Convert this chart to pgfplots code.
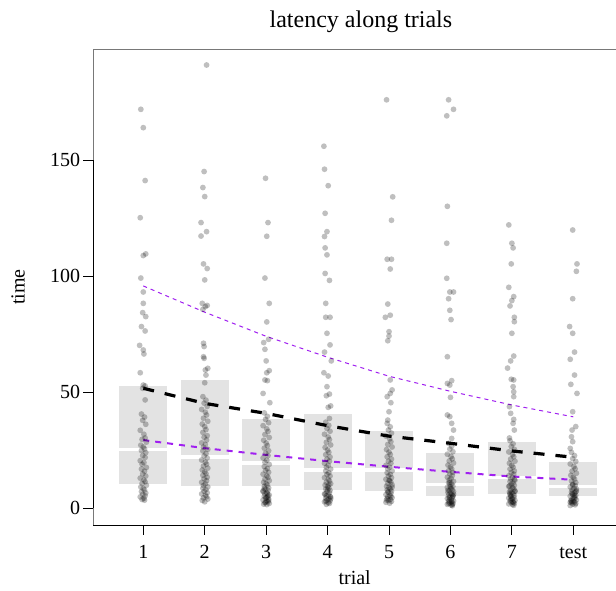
\documentclass[border=0pt]{standalone}
\usepackage{pgfplots}
\pgfplotsset{compat=1.18}
\usepgfplotslibrary{statistics}
\usepackage{fontspec}
\setmainfont{Liberation Serif}
\definecolor{rpurple}{RGB}{160,32,240}
\definecolor{boxgray}{RGB}{227,227,227}
\definecolor{framegray}{RGB}{120,120,120}

\begin{document}
\begin{tikzpicture}[font=\fontsize{20}{24}\selectfont]
\useasboundingbox (-93.3pt,-66pt) rectangle (522.7pt,525pt);
\begin{axis}[
  at={(0pt,0pt)}, anchor=south west,
  scale only axis, width=522.7pt, height=476pt,
  xmin=0.186, xmax=8.695, ymin=-7.3, ymax=197.8,
  axis line style={draw=none},
  tick pos=left, tick align=outside, major tick length=10pt,
  tick style={black, line width=0.8pt},
  xtick={1,2,3,4,5,6,7,8}, xticklabels={1,2,3,4,5,6,7,test},
  ytick={0,50,100,150}, yticklabels={0,50,100,150},
  xticklabel style={inner sep=0pt, text height=13.5pt, yshift=-10pt},
  yticklabel style={inner sep=0pt, xshift=-3pt},
  title={latency along trials},
  every axis title/.style={font=\fontsize{24}{28}\selectfont, at={(axis description cs:0.512,1.0462)}, anchor=base, inner sep=0pt},
  xlabel={trial}, ylabel={time},
  every axis x label/.style={at={(axis description cs:0.5,-0.11)}, anchor=center},
  every axis y label/.style={at={(axis description cs:-0.144,0.5)}, anchor=center, rotate=90},
  boxplot/draw direction=y,
  boxplot/box extend=0.78,
  clip=false,
]
\pgfplotsset{
  inf/.style={boxplot/every box/.style={draw=none, fill=boxgray},
    boxplot/every median/.style={draw=white, line width=3.5pt},
    boxplot/every whisker/.style={draw=none}},
  pts/.style={only marks, mark=*, mark size=2.9pt, draw opacity=0, mark options={draw opacity=0, line width=0pt, fill=black, fill opacity=0.25}}}
% boxes: interval with white average line
\addplot[inf, draw=none, boxplot prepared={draw position=1, lower whisker=10.5, lower quartile=10.5, median=25.3, upper quartile=52.6, upper whisker=52.6}] coordinates {};
\addplot[inf, draw=none, boxplot prepared={draw position=2, lower whisker=9.4, lower quartile=9.4, median=22.1, upper quartile=55.0, upper whisker=55.0}] coordinates {};
\addplot[inf, draw=none, boxplot prepared={draw position=3, lower whisker=9.4, lower quartile=9.4, median=19.5, upper quartile=38.2, upper whisker=38.2}] coordinates {};
\addplot[inf, draw=none, boxplot prepared={draw position=4, lower whisker=7.8, lower quartile=7.8, median=16.5, upper quartile=40.5, upper whisker=40.5}] coordinates {};
\addplot[inf, draw=none, boxplot prepared={draw position=5, lower whisker=7.5, lower quartile=7.5, median=16.4, upper quartile=33.3, upper whisker=33.3}] coordinates {};
\addplot[inf, draw=none, boxplot prepared={draw position=6, lower whisker=5.3, lower quartile=5.3, median=10.2, upper quartile=23.8, upper whisker=23.8}] coordinates {};
\addplot[inf, draw=none, boxplot prepared={draw position=7, lower whisker=5.9, lower quartile=5.9, median=13.1, upper quartile=28.3, upper whisker=28.3}] coordinates {};
\addplot[inf, draw=none, boxplot prepared={draw position=8, lower whisker=5.3, lower quartile=5.3, median=9.2, upper quartile=19.8, upper whisker=19.8}] coordinates {};

% jittered observations
% trial 1
\addplot[pts] coordinates {(0.96,171.8) (1.00,163.9) (1.03,141.1) (0.95,125.1) (1.00,108.8) (1.04,109.5) (0.96,99.1) (1.00,93.1) (1.00,88.2) (0.99,84.2) (1.04,82.5) (0.97,78.2) (1.03,76.3) (0.94,70.1) (1.00,68.1) (1.01,66.4) (0.95,58.3) (1.00,53.0) (1.03,52.6) (0.99,51.6) (1.03,46.6)
(0.97,40.5) (1.02,39.2) (0.99,37.8) (1.04,36.1) (0.95,33.5) (1.01,31.8) (1.03,30.2) (0.98,29.6) (1.05,28.4) (0.96,27.1) (1.00,26.3) (1.02,25.5) (0.97,24.8) (1.04,23.9) (0.99,22.6) (1.03,21.8) (0.95,20.4) (1.01,19.6) (0.98,18.9) (1.05,17.5) (0.97,16.8) (1.02,15.9) (0.99,14.7) (1.04,13.8) (0.95,12.9) (1.01,12.1) (1.03,11.3) (0.98,10.6) (1.05,9.8) (0.96,9.1) (1.00,8.4) (1.02,7.8) (0.97,7.1) (1.04,6.5) (0.99,5.9) (1.03,5.3) (0.95,4.8) (1.01,4.2) (0.98,3.7) (1.02,3.4)};
% trial 2
\addplot[pts] coordinates {(2.03,190.9) (1.99,145.0) (1.97,138.1) (2.00,134.2) (1.94,123.0) (2.03,119.1) (1.94,117.2) (1.98,105.2) (2.04,103.2) (2.00,98.3) (1.96,88.2) (2.01,86.8) (2.04,87.3) (1.97,85.6) (1.98,71.0) (1.99,69.6) (1.98,65.2) (1.99,64.5) (2.01,59.5) (2.05,60.2) (2.02,57.3) (2.00,54.0)
(1.97,48.0) (2.02,46.5) (1.99,45.2) (2.04,43.8) (1.95,42.5) (2.01,41.3) (2.03,40.1) (1.98,38.7) (2.05,37.4) (1.96,36.2) (2.00,35.1) (2.02,33.8) (1.97,32.6) (2.04,31.2) (1.99,30.5) (2.03,29.3) (1.95,28.1) (2.01,27.4) (1.98,26.2) (2.05,25.3) (1.97,24.6) (2.02,23.5) (1.99,22.4) (2.04,21.6) (1.95,20.7) (2.01,19.8) (2.03,18.9) (1.98,18.1) (2.05,17.2) (1.96,16.4) (2.00,15.6) (2.02,14.8) (1.97,14.1) (2.04,13.3) (1.99,12.6) (2.03,11.8) (1.95,11.1) (2.01,10.4) (1.98,9.7) (2.05,9.1) (1.97,8.5) (2.02,7.9) (1.99,7.2) (2.04,6.6) (1.95,6.1) (2.01,5.5) (2.03,4.9) (1.98,4.4) (2.05,3.9) (1.96,3.3) (2.00,2.7)};
% trial 3
\addplot[pts] coordinates {(2.99,142.1) (3.03,123.0) (3.01,117.1) (2.98,99.1) (3.05,88.2) (3.01,80.2) (2.96,71.3) (3.04,72.7) (2.98,68.4) (3.00,63.4) (3.01,58.3) (3.05,59.2) (2.98,55.2) (3.02,54.9) (2.95,49.4) (3.06,45.4)
(2.97,41.0) (3.02,39.5) (2.99,38.2) (3.04,36.8) (2.95,35.5) (3.01,34.1) (3.03,33.0) (2.98,31.7) (3.05,30.4) (2.96,29.2) (3.00,28.0) (3.02,26.9) (2.97,25.8) (3.04,24.7) (2.99,23.6) (3.03,22.6) (2.95,21.6) (3.01,20.6) (2.98,19.7) (3.05,18.8) (2.97,17.9) (3.02,17.0) (2.99,16.2) (3.04,15.4) (2.95,14.6) (3.01,13.9) (3.03,13.2) (2.98,12.5) (3.05,11.8) (2.96,11.1) (3.00,10.5) (3.02,9.9) (2.97,9.3) (3.04,8.7) (2.99,8.1) (3.03,7.6) (2.95,7.1) (3.01,6.6) (2.98,6.1) (3.05,5.6) (2.97,5.1) (3.02,4.7) (2.99,4.3) (3.04,3.9) (2.95,3.5) (3.01,3.1) (3.03,2.7) (2.98,2.3) (3.05,2.0) (2.96,1.7) (3.00,4.5) (3.02,6.3) (2.97,8.4) (3.04,3.3) (2.99,2.5) (3.03,5.3) (2.95,7.4) (3.01,1.5)};
% trial 4
\addplot[pts] coordinates {(3.94,155.9) (3.95,146.0) (4.01,138.9) (3.96,127.0) (3.99,119.1) (3.95,117.0) (3.96,112.1) (3.99,109.1) (3.96,101.1) (4.03,98.1) (3.97,88.2) (3.97,82.2) (4.04,82.2) (3.99,75.3) (4.04,70.3) (3.95,67.2) (4.06,63.4) (3.94,58.3) (4.01,56.9) (3.99,52.3) (4.03,49.1) (3.98,48.4) (4.05,44.0) (4.01,43.4) (4.03,38.6)
(3.97,37.0) (4.02,35.6) (3.99,34.3) (4.04,33.1) (3.95,31.8) (4.01,30.6) (4.03,29.5) (3.98,28.3) (4.05,27.2) (3.96,26.1) (4.00,25.0) (4.02,24.0) (3.97,23.0) (4.04,22.0) (3.99,21.1) (4.03,20.2) (3.95,19.3) (4.01,18.5) (3.98,17.6) (4.05,16.8) (3.97,16.0) (4.02,15.2) (3.99,14.5) (4.04,13.8) (3.95,13.1) (4.01,12.4) (4.03,11.7) (3.98,11.1) (4.05,10.5) (3.96,9.9) (4.00,9.3) (4.02,8.7) (3.97,8.2) (4.04,7.6) (3.99,7.1) (4.03,6.6) (3.95,6.1) (4.01,5.6) (3.98,5.2) (4.05,4.7) (3.97,4.3) (4.02,3.9) (3.99,3.5) (4.04,3.1) (3.95,2.7) (4.01,2.3) (4.03,2.0) (3.98,1.6) (4.05,4.0) (3.96,6.0) (4.00,8.0) (4.02,10.0) (3.97,3.0) (4.04,5.0)};
% trial 5
\addplot[pts] coordinates {(4.96,175.9) (5.06,134.1) (5.04,124.0) (4.97,107.2) (5.04,107.2) (5.02,103.0) (4.98,87.9) (4.94,82.2) (5.02,83.1) (5.00,76.0) (5.00,74.1) (4.98,72.1) (5.02,55.2) (5.05,50.9) (4.97,48.0) (5.02,49.4) (5.03,45.4) (5.00,41.5) (4.98,37.9)
(4.97,36.5) (5.02,35.0) (4.99,33.6) (5.04,32.3) (4.95,31.0) (5.01,29.8) (5.03,28.6) (4.98,27.4) (5.05,26.3) (4.96,25.2) (5.00,24.1) (5.02,23.1) (4.97,22.1) (5.04,21.1) (4.99,20.2) (5.03,19.3) (4.95,18.4) (5.01,17.6) (4.98,16.8) (5.05,16.0) (4.97,15.2) (5.02,14.5) (4.99,13.8) (5.04,13.1) (4.95,12.4) (5.01,11.8) (5.03,11.2) (4.98,10.6) (5.05,10.0) (4.96,9.4) (5.00,8.9) (5.02,8.3) (4.97,7.8) (5.04,7.3) (4.99,6.8) (5.03,6.3) (4.95,5.8) (5.01,5.4) (4.98,4.9) (5.05,4.5) (4.97,4.1) (5.02,3.7) (4.99,3.3) (5.04,2.9) (4.95,2.5) (5.01,2.1) (5.03,5.0) (4.98,7.0) (5.05,9.0) (4.96,3.5) (5.00,12.0)};
% trial 6
\addplot[pts] coordinates {(5.97,175.9) (6.05,171.8) (5.94,169.0) (5.95,130.0) (5.94,114.1) (5.94,99.0) (5.99,93.1) (6.05,93.1) (5.97,90.2) (5.99,85.2) (6.01,81.2) (5.95,65.2) (5.95,53.7) (6.02,54.9) (5.99,53.0) (6.00,47.7) (5.95,40.1) (5.99,39.4) (6.02,36.5) (6.05,33.6) (6.02,30.0)
(5.97,27.9) (6.02,26.6) (5.99,25.4) (6.04,24.3) (5.95,23.2) (6.01,22.2) (6.03,21.2) (5.98,20.3) (6.05,19.4) (5.96,18.5) (6.00,17.7) (6.02,16.9) (5.97,16.1) (6.04,15.4) (5.99,14.7) (6.03,14.0) (5.95,13.3) (6.01,12.7) (5.98,12.1) (6.05,11.5) (5.97,10.9) (6.02,10.4) (5.99,9.9) (6.04,9.4) (5.95,8.9) (6.01,8.4) (6.03,7.9) (5.98,7.5) (6.05,7.1) (5.96,6.7) (6.00,6.3) (6.02,5.9) (5.97,5.5) (6.04,5.1) (5.99,4.8) (6.03,4.4) (5.95,4.1) (6.01,3.7) (5.98,3.4) (6.05,3.1) (5.97,2.8) (6.02,2.5) (5.99,2.2) (6.04,1.9) (5.95,1.6) (6.01,1.3) (6.03,1.0) (5.98,4.5) (6.05,6.0) (5.96,7.7) (6.00,9.1) (6.02,3.0) (5.97,2.0) (6.04,5.3) (5.99,11.0) (6.03,1.5)};
% trial 7
\addplot[pts] coordinates {(6.95,122.0) (7.00,114.1) (7.02,112.1) (6.99,105.2) (6.95,95.1) (7.03,91.1) (7.00,89.4) (6.97,87.1) (7.04,82.2) (7.04,80.3) (7.00,75.3) (7.03,65.5) (6.98,63.4) (6.93,60.3) (6.99,55.5) (7.03,55.2) (7.02,52.3) (7.03,50.1) (7.03,48.0) (6.96,43.7) (6.98,40.8) (7.03,38.2) (7.02,36.5) (7.04,33.6) (6.96,30.2)
(6.97,29.0) (7.02,27.7) (6.99,26.5) (7.04,25.3) (6.95,24.2) (7.01,23.1) (7.03,22.1) (6.98,21.1) (7.05,20.2) (6.96,19.3) (7.00,18.4) (7.02,17.6) (6.97,16.8) (7.04,16.0) (6.99,15.3) (7.03,14.6) (6.95,13.9) (7.01,13.2) (6.98,12.6) (7.05,12.0) (6.97,11.4) (7.02,10.8) (6.99,10.3) (7.04,9.8) (6.95,9.3) (7.01,8.8) (7.03,8.3) (6.98,7.8) (7.05,7.4) (6.96,7.0) (7.00,6.6) (7.02,6.2) (6.97,5.8) (7.04,5.4) (6.99,5.0) (7.03,4.6) (6.95,4.3) (7.01,3.9) (6.98,3.6) (7.05,3.3) (6.97,3.0) (7.02,2.7) (6.99,2.4) (7.04,2.1) (6.95,1.8) (7.01,1.5) (7.03,1.2) (6.98,5.2) (7.05,7.2) (6.96,9.5) (7.00,4.0) (7.02,2.5) (6.97,6.4) (7.04,12.3)};
% test
\addplot[pts] coordinates {(7.99,119.8) (8.06,105.2) (8.05,102.0) (7.99,90.2) (7.94,78.2) (7.99,75.3) (7.95,64.1) (8.02,67.2) (8.02,57.3) (7.96,53.3) (8.06,49.4) (7.99,41.5) (8.04,35.1) (7.98,33.6) (7.97,30.7) (7.99,28.6) (7.95,25.7)
(7.97,24.0) (8.02,22.6) (7.99,21.3) (8.04,20.1) (7.95,19.0) (8.01,17.9) (8.03,16.9) (7.98,15.9) (8.05,15.0) (7.96,14.1) (8.00,13.3) (8.02,12.5) (7.97,11.7) (8.04,11.0) (7.99,10.3) (8.03,9.7) (7.95,9.1) (8.01,8.5) (7.98,7.9) (8.05,7.4) (7.97,6.9) (8.02,6.4) (7.99,5.9) (8.04,5.5) (7.95,5.1) (8.01,4.7) (8.03,4.3) (7.98,3.9) (8.05,3.5) (7.96,3.2) (8.00,2.9) (8.02,2.6) (7.97,2.3) (8.04,2.0) (7.99,1.7) (8.03,1.4) (7.95,1.1) (8.01,4.0) (7.98,6.2) (8.05,8.2) (7.97,3.0) (8.02,5.3) (7.99,10.0) (8.04,7.0) (7.95,2.5)};

% fitted curves
\addplot[rpurple, line width=1pt, dash pattern=on 4pt off 4pt] coordinates {(1,95.7) (2,84.4) (3,74.0) (4,65.0) (5,56.8) (6,50.3) (7,44.4) (8,39.3)};
\addplot[rpurple, line width=2pt, dash pattern=on 6pt off 6pt] coordinates {(1,29.3) (2,25.8) (3,22.9) (4,20.2) (5,17.8) (6,15.6) (7,13.6) (8,12.2)};
\addplot[black, line width=3.2pt, dash pattern=on 11pt off 11pt] coordinates {(1,51.6) (2,45.1) (3,40.8) (4,35.5) (5,31.0) (6,27.9) (7,24.6) (8,21.9)};

% frame and axis lines
\draw[framegray, line width=0.9pt] (rel axis cs:0,0) -- (rel axis cs:0,1) -- (rel axis cs:1,1);
\draw[black, line width=0.9pt] (rel axis cs:0,0) -- (rel axis cs:1,0);
\draw[black, line width=0.9pt] (axis cs:0.186,0) -- (axis cs:0.186,150);
\end{axis}
\end{tikzpicture}
\end{document}
